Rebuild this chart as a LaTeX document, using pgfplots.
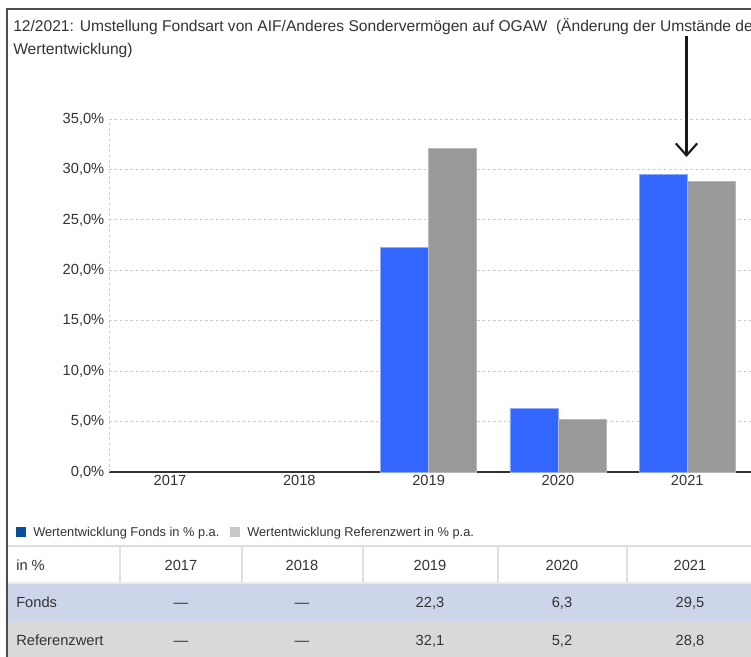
\documentclass[border=0pt]{standalone}
\usepackage{fontspec}
\setmainfont{Liberation Sans}
\usepackage{pgfplots}
\pgfplotsset{compat=1.18}
\usetikzlibrary{arrows.meta}
\definecolor{fondsblue}{HTML}{3366FF}
\definecolor{refgray}{HTML}{999999}
\definecolor{legblue}{HTML}{0B4F9C}
\definecolor{leggray}{HTML}{C8C8C8}
\definecolor{rowblue}{HTML}{CDD5EA}
\definecolor{rowgray}{HTML}{D9D9D9}
\definecolor{txt}{HTML}{333333}
\begin{document}
\begin{tikzpicture}
\begin{scope}
\clip (0pt,0pt) rectangle (563.25pt,-492.75pt);
\begin{scope}[x=0.75pt,y=-0.75pt]
\fill[white] (0,0) rectangle (751,657);
% table rows
\fill[rowblue] (7,583) rectangle (751,621);
\fill[rowgray] (7,621) rectangle (751,657);
\draw[black!13, line width=1.2pt] (7,546) -- (751,546);
\draw[black!8, line width=1pt] (7,583) -- (751,583);
\foreach \x in {120,242,363,498,627} \draw[black!12, line width=0.8pt] (\x,547) -- (\x,583);
% frame
\draw[black!70, line width=1.2pt] (7,660) -- (7,9) -- (760,9);
% title
\begin{scope}[every node/.style={text=txt, font=\fontsize{11.7}{13}\selectfont, inner sep=0pt}]
\node[anchor=base west] at (13,31) {12/2021: Umstellung Fondsart von AIF/Anderes Sondervermögen auf OGAW\ \ (Änderung der Umstände der};
\node[anchor=base west] at (13,54) {Wertentwicklung)};
\end{scope}
% table text
\begin{scope}[every node/.style={text=txt, font=\fontsize{11}{13}\selectfont, inner sep=0pt}]
\node[anchor=base west] at (16,570) {in \%};
\node[anchor=base west] at (16,607) {Fonds};
\node[anchor=base west] at (16,645) {Referenzwert};
\foreach \x/\a/\b/\c in {181/2017/---/---, 302/2018/---/---, 430/2019/{22,3}/{32,1}, 562/2020/{6,3}/{5,2}, 690/2021/{29,5}/{28,8}}{
  \node[anchor=base] at (\x,570) {\a};
  \node[anchor=base] at (\x,607) {\b};
  \node[anchor=base] at (\x,645) {\c};
}
\end{scope}
% legend
\fill[legblue] (16,527) rectangle (26,537);
\node[anchor=base west, inner sep=0pt, text=txt, font=\fontsize{9.6}{11}\selectfont] at (33,536.5) {Wertentwicklung Fonds in \% p.a.};
\fill[leggray] (230,527) rectangle (240,537);
\node[anchor=base west, inner sep=0pt, text=txt, font=\fontsize{9.6}{11}\selectfont] at (247,536.5) {Wertentwicklung Referenzwert in \% p.a.};
\end{scope}
\begin{axis}[
  at={(81.75pt,-354pt)}, anchor=south west,
  scale only axis, width=482.2pt, height=264.75pt,
  xmin=-0.472, xmax=4.5, ymin=0, ymax=35,
  xtick={0,1,2,3,4}, xticklabels={2017,2018,2019,2020,2021},
  ytick={0,5,10,15,20,25,30,35},
  yticklabels={{0,0\%},{5,0\%},{10,0\%},{15,0\%},{20,0\%},{25,0\%},{30,0\%},{35,0\%}},
  axis x line*=bottom, axis y line*=left,
  x axis line style={draw=txt, line width=1.2pt, -},
  y axis line style={draw=black!20, dash pattern=on 2pt off 2pt, line width=0.6pt, -},
  ymajorgrids, grid style={draw=black!20, dash pattern=on 2pt off 2pt, line width=0.6pt},
  major tick length=0pt,
  ticklabel style={font=\fontsize{11}{13}\selectfont, text=txt},
  xticklabel style={yshift=1pt},
  ybar, bar width=36pt,
  clip=false,
]
\addplot[fill=fondsblue, draw=fondsblue!55!white, line width=0.6pt, bar shift=-18pt] coordinates {(2,22.3) (3,6.3) (4,29.5)};
\addplot[fill=refgray, draw=refgray!70!white, line width=0.6pt, bar shift=18pt] coordinates {(2,32.1) (3,5.2) (4,28.8)};
\end{axis}
\begin{scope}[x=0.75pt,y=-0.75pt]
\draw[black!90, line width=1.6pt, -{Straight Barb[length=9pt, width=16pt, line width=1.6pt]}] (686.5,36) -- (686.5,157);
\end{scope}
\end{scope}
\pgfresetboundingbox
\path[use as bounding box] (0pt,0pt) rectangle (563.25pt,-492.75pt);
\end{tikzpicture}
\end{document}
